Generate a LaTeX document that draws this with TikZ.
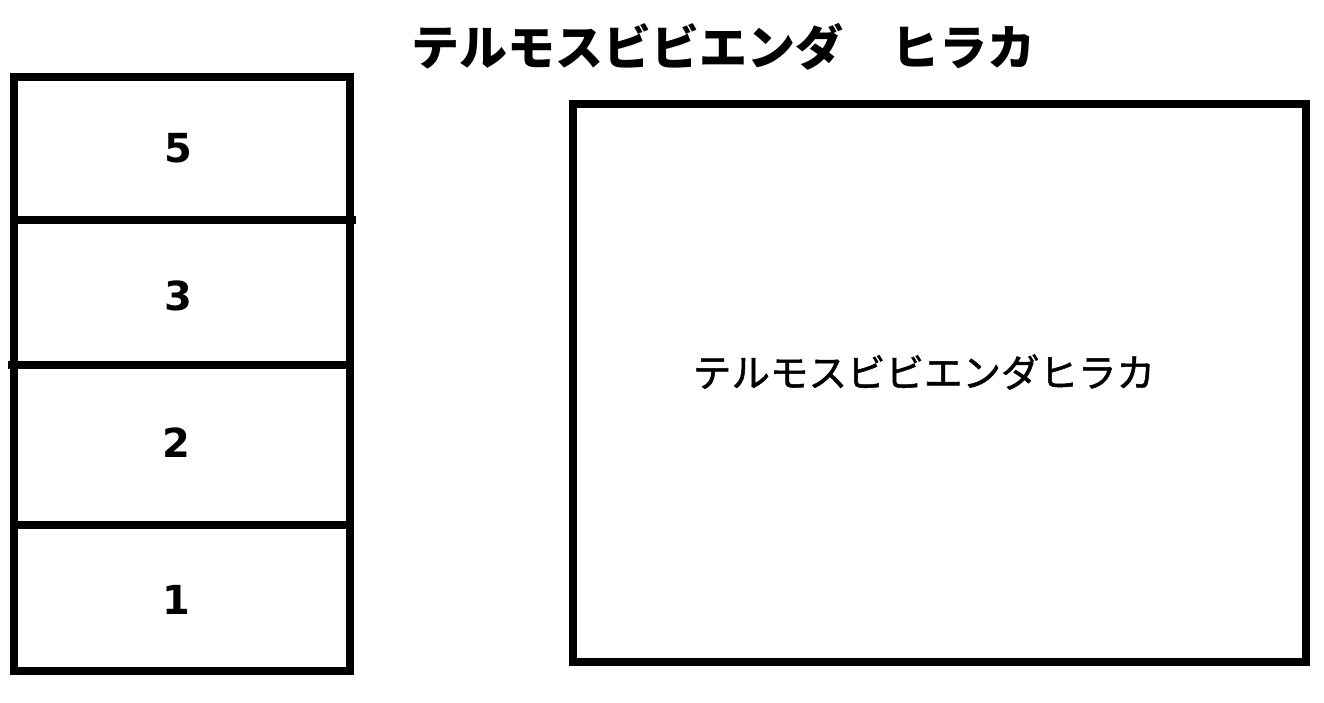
\documentclass[tikz,border=0pt]{standalone}
\usepackage{fontspec}
\newfontfamily\jpfont{Noto Sans CJK JP}
\newfontfamily\jpmedium[FakeBold=1.3]{Noto Sans CJK JP}
\newfontfamily\numfont{DejaVu Sans}
\begin{document}
\begin{tikzpicture}[x=1pt,y=-1pt,
  frame/.style={draw=black,line width=8pt},
  divline/.style={draw=black,line width=8pt},
  numlbl/.style={font=\numfont\bfseries\fontsize{40}{40}\selectfont,inner sep=0pt},
  titlelbl/.style={font=\jpfont\bfseries\fontsize{48}{48}\selectfont,inner sep=0pt},
  innerlbl/.style={font=\jpmedium\fontsize{38.5}{38.5}\selectfont,inner sep=0pt}]
\useasboundingbox (0,0) rectangle (1324,702);
% left stack
\draw[frame] (14,77) rectangle (350,671);
\coordinate (d1a) at (14,220); \coordinate (d1b) at (356,220);
\coordinate (d2a) at (8,365); \coordinate (d2b) at (350,365);
\coordinate (d3a) at (14,525); \coordinate (d3b) at (350,525);
\draw[divline] (d1a) -- (d1b);
\draw[divline] (d2a) -- (d2b);
\draw[divline] (d3a) -- (d3b);
\node[numlbl] (n5) at (178,148) {5};
\node[numlbl] (n3) at (178,296) {3};
\node[numlbl] (n2) at (176,443) {2};
\node[numlbl] (n1) at (176,600) {1};
% title
\node[titlelbl] (title) at (723.5,47) {テルモスビビエンダ　ヒラカ};
% right box
\node[frame,minimum width=733pt,minimum height=558pt,inner sep=0pt] (bigbox) at (939.5,383) {};
\node[innerlbl] (inner) at (924,372) {テルモスビビエンダヒラカ};
\end{tikzpicture}
\end{document}
